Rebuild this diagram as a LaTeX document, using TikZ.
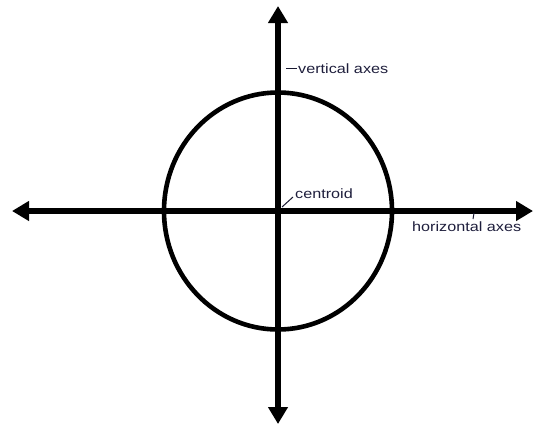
\documentclass[tikz,border=0pt]{standalone}
\usepackage{fontspec}
\newfontfamily\lblfont[FakeStretch=1.2]{Liberation Sans}
\usetikzlibrary{arrows.meta}
\definecolor{lbl}{RGB}{30,30,60}
\tikzset{
  axisline/.style={line width=5.5pt, {Triangle[length=17pt,width=19pt]}-{Triangle[length=17pt,width=19pt]}},
  ring/.style={line width=4.6pt},
  lbltext/.style={inner sep=0pt, anchor=base west, text=lbl, font=\lblfont\fontsize{13.5}{16}\selectfont},
  leader/.style={line width=1pt, draw=lbl!80!black}
}
\begin{document}
\begin{tikzpicture}[x=1pt,y=-1pt]
\useasboundingbox (0,0) rectangle (537,426);
\coordinate (O) at (278,211);
\coordinate (L) at (12,211);
\coordinate (R) at (533,211);
\coordinate (T) at (278,6);
\coordinate (B) at (278,424);
\draw[ring] (O) ellipse [x radius=114, y radius=118.5];
\draw[axisline] (L) -- (R);
\draw[axisline] (T) -- (B);
\node[lbltext] (vlab) at (298,73) {vertical axes};
\node[lbltext] (clab) at (295,198) {centroid};
\node[lbltext] (hlab) at (412,231) {horizontal axes};
\coordinate (v1) at (286,68);
\coordinate (v2) at (297,68);
\coordinate (c1) at (282,207);
\coordinate (c2) at (293,197);
\coordinate (h1) at (474,213);
\coordinate (h2) at (473,219);
\draw[leader] (v1) -- (v2);
\draw[leader] (c1) -- (c2);
\draw[leader] (h1) -- (h2);
\end{tikzpicture}
\end{document}
